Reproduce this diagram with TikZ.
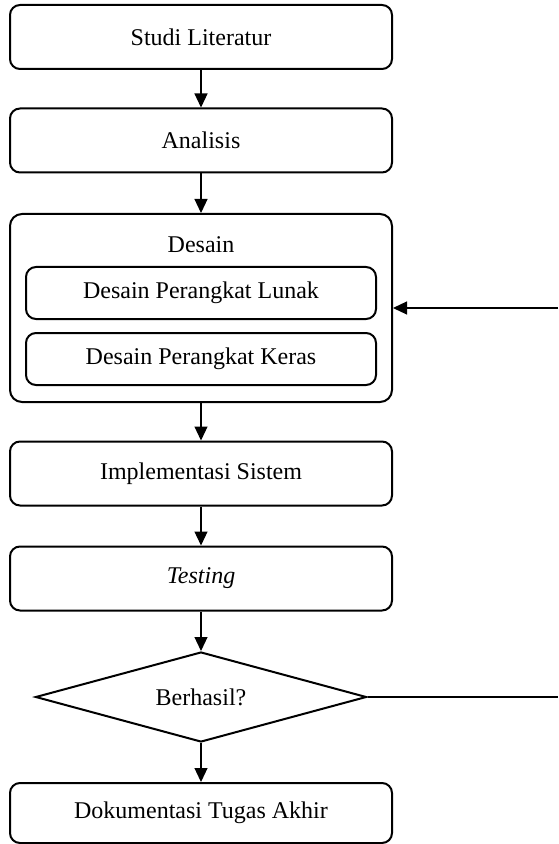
\documentclass[tikz,border=0pt]{standalone}
\usepackage{fontspec}
\setmainfont{Liberation Serif}
\usetikzlibrary{shapes,arrows.meta,positioning}

\begin{document}
\begin{tikzpicture}[x=0.5pt, y=-0.5pt, font=\fontsize{12}{14}\selectfont,
    proses/.style={rectangle, rounded corners=5pt, draw, line width=1pt, minimum width=191pt, minimum height=32pt, inner sep=0pt},
    subproses/.style={rectangle, rounded corners=5pt, draw, line width=1pt, minimum width=175pt, minimum height=26pt, inner sep=0pt},
    keputusan/.style={diamond, draw, line width=1pt, aspect=3.68, minimum width=165.5pt, minimum height=45pt, inner sep=0pt},
    panah/.style={-{Triangle[length=7pt, width=6.5pt]}, line width=0.6pt}]
    \useasboundingbox (0,0) rectangle (558,844);

    % Alur utama
    \node[proses] (studi) at (201,37) {Studi Literatur};
    \node[proses] (analisis) at (201,140.5) {Analisis};
    \node[proses, rounded corners=6pt, minimum height=94pt] (desain) at (201,308) {};
    \node (desainlabel) at (201,245) {Desain};
    \node[subproses] (lunak) at (201,293) {Desain Perangkat Lunak};
    \node[subproses] (keras) at (201,359) {Desain Perangkat Keras};
    \node[proses] (implementasi) at (201,473.5) {Implementasi Sistem};
    \node[proses] (testing) at (201,578.5) {\textit{Testing}};
    \node[keputusan] (berhasil) at (201,697) {Berhasil?};
    \node[proses, minimum height=30pt] (dokumentasi) at (201,813) {Dokumentasi Tugas Akhir};

    % Panah
    \draw[panah] (studi) -- (analisis);
    \draw[panah] (analisis) -- (desain);
    \draw[panah] (desain) -- (implementasi);
    \draw[panah] (implementasi) -- (testing);
    \draw[panah] (testing) -- (berhasil);
    \draw[panah] (berhasil) -- (dokumentasi);

    % Kembali ke desain
    \coordinate (balikbawah) at (558,697);
    \coordinate (balikatas) at (558,308);
    \draw[line width=0.6pt] (berhasil.east) -- (balikbawah);
    \draw[panah] (balikatas) -- (desain.east);
\end{tikzpicture}
\end{document}
